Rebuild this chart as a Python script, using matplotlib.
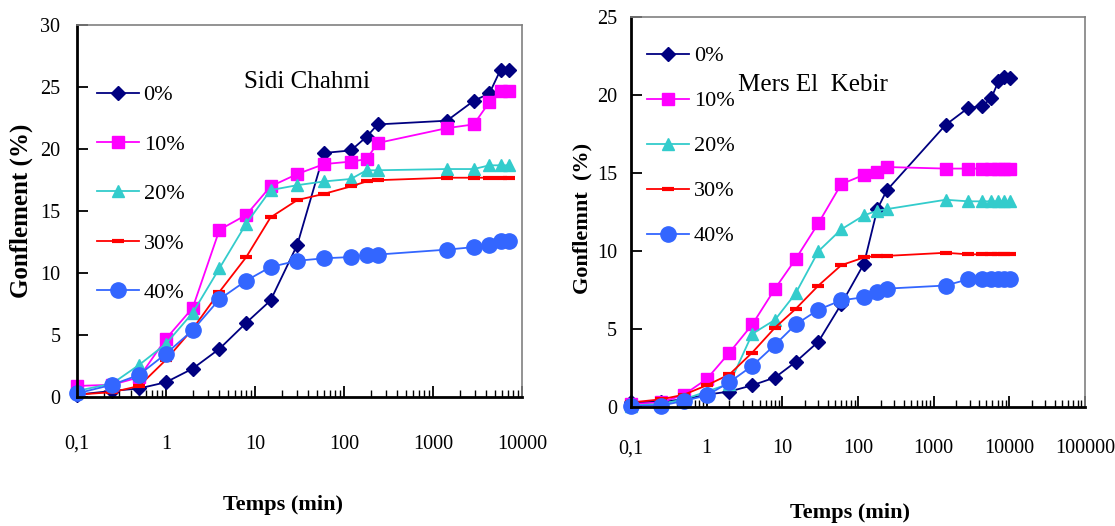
import matplotlib.pyplot as plt
from matplotlib.ticker import FixedLocator, LogLocator, NullFormatter

# Sidi Chahmi
t_sidi = [0.1, 0.25, 0.5, 1, 2, 4, 8, 15, 30, 60, 120, 180, 240, 1440, 2880, 4320, 5760, 7200]
sidi_0 = [0.2, 0.5, 0.7, 1.2, 2.3, 3.9, 6.0, 7.8, 12.3, 19.7, 19.9, 21.0, 22.0, 22.3, 23.9, 24.5, 26.4, 26.4]
sidi_10 = [0.9, 1.0, 1.6, 4.7, 7.2, 13.5, 14.7, 17.0, 18.0, 18.8, 19.0, 19.2, 20.5, 21.7, 22.0, 23.8, 24.7, 24.7]
sidi_20 = [0.5, 1.1, 2.6, 4.3, 6.8, 10.4, 14.0, 16.7, 17.1, 17.4, 17.6, 18.3, 18.3, 18.4, 18.4, 18.7, 18.7, 18.7]
sidi_30 = [0.2, 0.4, 0.9, 3.0, 5.5, 8.5, 11.3, 14.5, 15.9, 16.4, 17.0, 17.4, 17.5, 17.7, 17.7, 17.7, 17.7, 17.7]
sidi_40 = [0.3, 1.0, 1.8, 3.5, 5.4, 7.9, 9.4, 10.5, 11.0, 11.2, 11.3, 11.5, 11.5, 11.9, 12.1, 12.3, 12.6, 12.6]

# Mers El Kebir
t_mers = [0.1, 0.25, 0.5, 1, 2, 4, 8, 15, 30, 60, 120, 180, 240, 1440, 2880, 4320, 5760, 7200, 8640, 10080]
mers_0 = [0.3, 0.35, 0.5, 0.8, 1.0, 1.4, 1.9, 2.9, 4.2, 6.6, 9.2, 12.7, 13.9, 18.1, 19.2, 19.3, 19.8, 20.9, 21.2, 21.1]
mers_10 = [0.2, 0.3, 0.8, 1.8, 3.5, 5.3, 7.6, 9.5, 11.8, 14.3, 14.9, 15.1, 15.4, 15.3, 15.3, 15.3, 15.3, 15.3, 15.3, 15.3]
mers_20 = [0.1, 0.2, 0.5, 1.0, 1.5, 4.7, 5.6, 7.3, 10.0, 11.4, 12.3, 12.6, 12.7, 13.3, 13.2, 13.2, 13.2, 13.2, 13.2, 13.2]
mers_30 = [0.3, 0.5, 0.8, 1.4, 2.1, 3.5, 5.1, 6.3, 7.8, 9.1, 9.6, 9.7, 9.7, 9.9, 9.8, 9.8, 9.8, 9.8, 9.8, 9.8]
mers_40 = [0.1, 0.1, 0.4, 0.75, 1.6, 2.65, 4.0, 5.3, 6.25, 6.85, 7.05, 7.4, 7.6, 7.8, 8.2, 8.2, 8.2, 8.2, 8.2, 8.2]

noms = ['0%', '10%', '20%', '30%', '40%']
couleurs = ['#000080', '#FF00FF', '#33CCCC', '#FF0000', '#3366FF']
marqueurs = ['D', 's', '^', '_', 'o']
tailles = [7, 8, 8, 8, 11]

plt.rcParams['font.family'] = 'Liberation Serif'

fig = plt.figure(figsize=(11.15, 5.26), dpi=100)
ax1 = fig.add_axes([0.069, 0.245, 0.399, 0.707])
ax2 = fig.add_axes([0.566, 0.226, 0.407, 0.741])


def trace(ax, t, series):
    for y, nom, c, m, s in zip(series, noms, couleurs, marqueurs, tailles):
        ax.plot(t, y, color=c, lw=1.3, marker=m, ms=s, mfc=c, mec=c,
                mew=3 if m == '_' else 1, label=nom, clip_on=False)


def habille(ax, xmax, ymax, xlab_pad, ylab_pad):
    ax.set_xscale('log')
    ax.set_xlim(0.1, xmax)
    ax.set_ylim(0, ymax)
    decades = [10.0 ** k for k in range(-1, 6) if 10.0 ** k <= xmax]
    ax.xaxis.set_major_locator(FixedLocator(decades))
    ax.set_xticklabels(['0,1' if d < 1 else str(int(d)) for d in decades])
    ax.xaxis.set_minor_locator(LogLocator(base=10, subs=range(2, 10), numticks=20))
    ax.xaxis.set_minor_formatter(NullFormatter())
    ax.set_yticks(range(0, ymax + 1, 5))
    ax.tick_params(axis='both', which='major', direction='in', length=8, width=1.3,
                   labelsize=14.5, top=False, right=False)
    ax.tick_params(axis='x', which='minor', direction='in', length=5, width=1.0)
    ax.tick_params(axis='x', which='major', pad=xlab_pad)
    ax.tick_params(axis='y', which='major', pad=ylab_pad)
    for s in ['left', 'bottom']:
        ax.spines[s].set_linewidth(2)
        ax.spines[s].set_color('black')
    for s in ['top', 'right']:
        ax.spines[s].set_linewidth(1.2)
        ax.spines[s].set_color('#808080')


trace(ax1, t_sidi, [sidi_0, sidi_10, sidi_20, sidi_30, sidi_40])
habille(ax1, 1e4, 30, 27, 12)
ax1.set_xlabel('Temps (min)', fontsize=16, fontweight='bold')
ax1.xaxis.set_label_coords(0.463, -0.262)
ax1.set_ylabel('Gonflement (%)', fontsize=18, fontweight='bold')
ax1.yaxis.set_label_coords(-0.098, 0.50)
ax1.text(0.517, 0.847, 'Sidi Chahmi', transform=ax1.transAxes, fontsize=18,
         ha='center', va='center')
ax1.legend(loc='upper left', bbox_to_anchor=(0.045, 0.84), frameon=False,
           fontsize=16, handlelength=1.9, handletextpad=0.2, labelspacing=1.3,
           borderpad=0, borderaxespad=0)

trace(ax2, t_mers, [mers_0, mers_10, mers_20, mers_30, mers_40])
habille(ax2, 1e5, 25, 23, 10)
ax2.set_xlabel('Temps (min)', fontsize=16, fontweight='bold')
ax2.xaxis.set_label_coords(0.482, -0.246)
ax2.set_ylabel('Gonflemnt  (%)', fontsize=16, fontweight='bold')
ax2.yaxis.set_label_coords(-0.086, 0.485)
ax2.text(0.401, 0.826, 'Mers El  Kebir', transform=ax2.transAxes, fontsize=18,
         ha='center', va='center')
ax2.legend(loc='upper left', bbox_to_anchor=(0.035, 0.927), frameon=False,
           fontsize=16, handlelength=1.9, handletextpad=0.2, labelspacing=1.1,
           borderpad=0, borderaxespad=0)

fig.savefig('out.png', dpi=100)
